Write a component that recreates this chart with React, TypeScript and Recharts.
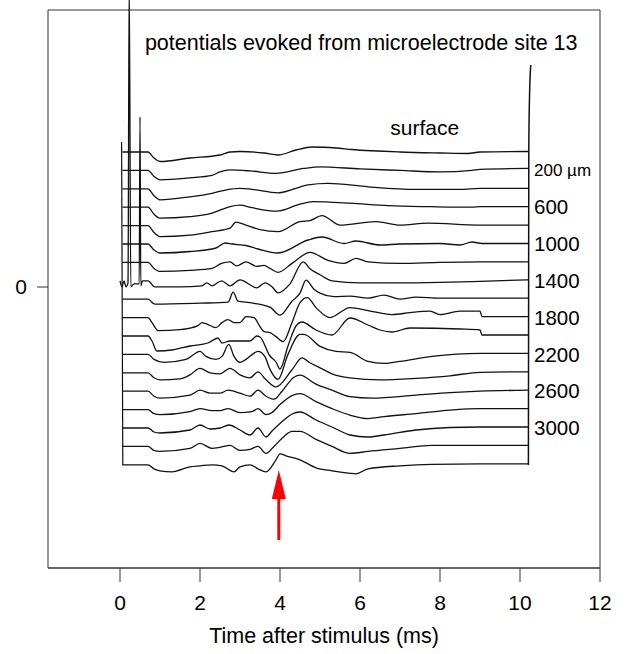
import React from 'react';
import { LineChart, Line, XAxis, YAxis, ReferenceArea, ReferenceDot, ReferenceLine, Label } from 'recharts';

const xTicks = [0, 2, 4, 6, 8, 10, 12];
const yTicks = [0];
const depthLabels = ['', '200 µm', '', '600', '', '1000', '', '1400', '', '1800', '', '2200', '', '2600', '', '3000', '', ''];
const traceOffsets = [135, 116.6, 98.2, 79.8, 61.4, 43, 24.6, 6.2, -12.2, -30.6, -49, -67.4, -85.8, -104.2, -122.6, -141, -159.4, -177.8];

const trace00 = [[0.06,0],[0.7,0],[0.85,-6],[1.0,-9.5],[1.75,-6],[2.5,-3],[2.75,0],[3.0,0.5],[3.6,-1],[3.95,-3],[4.4,2],[4.8,5],[5.4,4],[5.8,2.5],[7.0,0],[8.0,-1],[8.7,-1.5],[9.0,0],[10.2,0.5]];
const trace01 = [[0.06,0],[0.7,0],[0.85,-6],[1.0,-9.5],[1.75,-7.5],[2.3,-5],[2.5,-1.5],[2.75,0.5],[3.25,-0.5],[3.9,-3],[4.6,2],[5.0,3.5],[6.0,1.5],[7.0,0],[8.0,-1.5],[8.8,0],[9.0,1],[10.2,2]];
const trace02 = [[0.06,0],[0.7,0],[0.85,-7],[1.0,-11],[1.75,-8],[2.3,-4.5],[2.66,-1],[3.0,0.5],[3.3,-0.5],[3.95,-4],[4.7,4],[5.2,5.5],[6.2,2],[7.4,-0.5],[8.5,-0.5],[9.0,0.5],[10.2,0.5]];
const trace03 = [[0.06,0],[0.7,0],[0.85,-7],[1.0,-11],[1.75,-9.5],[2.3,-6],[2.5,-3],[2.75,0.5],[3.0,2],[3.3,-0.5],[3.92,-4],[4.5,3],[4.83,5.5],[5.75,4],[6.7,1.5],[7.8,0.5],[8.8,0],[9.0,0.5],[10.2,0.5]];
const trace04 = [[0.06,0],[0.7,0],[0.85,-7],[1.0,-11],[1.75,-9.5],[2.3,-6],[2.75,-2.5],[2.9,3.5],[3.15,0.5],[3.5,-4],[3.95,-6],[4.5,4],[4.75,5],[5.05,10],[5.5,0.5],[6.4,4],[7.0,0.5],[7.7,2.5],[9.0,0.5],[10.2,0.5]];
const trace05 = [[0.06,0],[0.7,0],[0.85,-6],[1.0,-9],[1.75,-7.5],[2.4,-4],[2.63,1],[2.8,0],[3.15,-1.5],[3.45,-5],[3.95,-9],[4.7,4],[5.05,7],[5.6,0.5],[5.9,3],[6.5,-1],[7.0,0],[8.0,0.5],[8.5,-1],[8.8,2],[9.05,0.5],[10.2,0.5]];
const trace06 = [[0.06,0],[0.7,0],[0.85,-6],[1.0,-9],[1.75,-8],[2.3,-6],[2.54,-1],[2.75,0.5],[2.92,-3.5],[3.15,0.5],[3.42,-4],[3.6,-3],[3.75,-6],[3.95,-10],[4.3,-1],[4.75,10],[5.2,2],[5.6,-1],[5.9,4],[6.2,0.5],[7.0,-1],[8.0,0],[9.0,0.5],[10.2,0.5]];
const trace07 = [[0.0,0],[0.05,-6],[0.1,0],[0.15,-6],[0.2,-2],[0.23,300],[0.27,-6],[0.35,-3],[0.48,-3],[0.5,164],[0.52,-5],[0.56,0],[0.7,0],[0.87,-6],[1.5,-6],[2.05,-5],[2.17,-2],[2.3,-5],[2.54,0],[2.75,-5],[3.0,1],[3.42,-7],[3.63,-2],[3.8,-6],[3.95,-12],[4.25,-3],[4.58,19],[4.75,12],[5.0,6],[5.3,0],[6.0,-2],[7.0,-2],[8.0,-1.5],[9.0,-0.5],[10.2,1]];
const trace08 = [[0.06,0],[0.7,0],[0.87,-5],[2.0,-4],[2.7,-3],[2.83,7],[2.95,-2],[3.25,-3.5],[3.75,-8],[4.0,-16],[4.3,-2],[4.5,6],[4.65,19],[4.85,10],[5.0,6],[5.35,2.5],[5.75,3],[6.2,1],[6.6,4],[7.0,0],[7.4,2],[8.0,1],[9.0,1],[10.2,1]];
const trace09 = [[0.06,0],[0.7,0],[0.8,-5],[0.95,-13],[1.5,-12],[1.95,-8],[2.05,-5],[2.15,-6],[2.4,-10],[2.55,-5],[2.7,-2],[2.85,-5],[3.0,-5],[3.15,1],[3.35,0],[3.5,-9],[3.6,-14],[3.75,-15],[3.9,-19],[4.08,-24],[4.3,-5],[4.5,15],[4.68,20],[4.9,10],[5.25,0],[5.75,10],[6.2,7],[6.8,3],[7.25,5],[7.75,6.5],[8.0,3],[8.5,6.5],[9.0,6.5],[9.05,1],[10.2,1]];
const trace10 = [[0.06,0],[0.7,0],[0.8,-5],[0.92,-15],[1.3,-14],[1.75,-10],[2.2,-7],[2.45,-2],[2.55,-7],[2.75,-5],[3.25,-5],[3.42,0],[3.5,-1],[3.75,-20],[3.9,-26],[4.0,-33],[4.2,-10],[4.4,10],[4.55,14],[4.9,6],[5.3,1],[5.75,18],[6.2,11],[6.5,6],[6.8,4],[7.25,8],[8.5,7],[9.0,6],[9.05,1],[10.2,1]];
const trace11 = [[0.06,0],[0.7,0],[0.85,-5],[1.1,-8],[1.65,-5],[2.0,3],[2.15,-2],[2.4,-5],[2.55,-2],[2.72,10],[2.85,-2],[3.0,-8],[3.15,-5],[3.45,3],[3.62,-2],[3.75,-15],[3.95,-25],[4.2,0],[4.5,20],[4.6,20],[5.0,8],[5.4,3],[5.75,2],[6.2,-7],[6.6,-9],[7.0,-7],[7.8,-2],[9.0,1],[10.2,1]];
const trace12 = [[0.06,0],[0.7,0],[0.85,-5],[1.0,-7],[1.5,-6],[1.75,-2],[2.0,4.5],[2.25,0],[2.5,-1],[2.75,4.5],[3.0,-2],[3.25,-5],[3.45,1],[3.65,-7],[3.9,-14],[4.3,3],[4.55,15],[4.75,10],[5.0,5],[5.3,-1],[5.75,-5],[6.5,-7],[7.4,-5.5],[8.25,-3],[9.0,0.5],[10.2,1]];
const trace13 = [[0.06,0],[0.7,0],[0.85,-5],[1.0,-7],[1.75,-4],[2.0,1],[2.25,-2],[2.5,-2],[2.7,1],[3.0,-2],[3.25,-5],[3.45,1],[3.65,-5],[3.85,-8],[4.05,0],[4.35,14],[4.5,16],[4.9,7],[5.3,1],[5.75,-5.5],[6.3,-7],[7.4,-4],[8.25,-1.5],[9.0,0],[10.2,1]];
const trace14 = [[0.06,0],[0.7,0],[0.85,-4],[1.0,-5],[1.75,-2],[2.0,1],[2.3,-1],[2.5,-1],[2.7,1],[3.0,-3],[3.3,-2],[3.45,1],[3.65,-5],[3.8,-3],[4.0,5],[4.3,14],[4.5,16],[4.9,8],[5.3,1],[5.75,-5.5],[6.2,-9],[6.6,-7],[7.4,-4],[8.25,-0.5],[9.0,1],[10.2,1]];
const trace15 = [[0.06,0],[0.7,0],[0.85,-4],[1.0,-5],[1.75,-2],[2.0,3],[2.25,-1],[2.5,0],[2.72,3],[3.0,-2],[3.25,-7],[3.45,0],[3.65,-9],[3.8,-3],[4.1,8],[4.3,14],[4.5,16],[4.9,8],[5.3,1],[5.75,-7],[6.2,-9],[6.6,-7],[7.4,-2],[8.25,0.5],[9.0,1],[10.2,1]];
const trace16 = [[0.06,0],[0.7,0],[0.85,-4],[1.0,-5],[1.75,-2],[2.0,3],[2.3,-2],[2.5,-1],[2.75,1],[3.0,-4],[3.25,-3],[3.45,0],[3.65,-7],[3.85,0],[4.1,10],[4.3,15],[4.5,15],[4.9,7],[5.3,0],[5.75,-7],[6.2,-5],[7.0,-2],[7.8,1],[9.0,1],[10.2,1]];
const trace17 = [[0.06,0],[0.7,0],[0.85,-4],[1.0,-6],[1.3,-7],[1.75,-2],[2.0,-1],[2.3,0],[2.55,-1],[2.85,-7],[3.0,-2],[3.25,0],[3.45,-4],[3.65,-7],[3.9,5],[4.0,11],[4.15,9],[4.5,5],[4.9,-3],[5.3,-6],[5.75,-8.5],[5.9,-9],[6.2,-4],[7.0,-1],[7.8,0.5],[9.0,1],[10.2,1]];

const traces = [trace00, trace01, trace02, trace03, trace04, trace05, trace06, trace07, trace08, trace09, trace10, trace11, trace12, trace13, trace14, trace15, trace16, trace17];

// calibration edges (time, value)
const leftEdge = [[0.04, 145], [0.07, -178]];
const rightEdge = [[10.21, -178], [10.22, 137], [10.24, 194], [10.27, 222]];

const FONT = '"Liberation Sans", Arial, sans-serif';
const INK = '#111';

const toRows = (pts: number[][], off: number) => pts.map(([t, v]) => ({ t, v: v + off }));

export default function App() {
  const series = traces.map((pts, i) => toRows(pts, traceOffsets[i]));
  const left = toRows(leftEdge, 0);
  const right = toRows(rightEdge, 0);
  return (
    <div style={{ position: 'absolute', left: 0, top: 0, background: '#fff' }}>
      <LineChart width={629} height={654} margin={{ top: 0, right: 29, bottom: 0, left: 0 }}>
        <XAxis
          dataKey="t"
          type="number"
          domain={[-1.8, 12]}
          ticks={xTicks}
          allowDataOverflow
          height={86}
          tickSize={14}
          tickMargin={13}
          axisLine={{ stroke: '#333' }}
          tickLine={{ stroke: '#333' }}
          tick={{ fontSize: 21, fill: '#000', fontFamily: FONT }}
        >
          <Label value="Time after stimulus (ms)" position="insideBottom" offset={11} style={{ fontSize: 21.5, fill: '#000', fontFamily: FONT }} />
        </XAxis>
        <YAxis
          dataKey="v"
          type="number"
          domain={[-281, 287]}
          ticks={yTicks}
          allowDataOverflow
          width={48}
          axisLine={false}
          tickSize={11}
          tickMargin={10}
          tickLine={{ stroke: '#333' }}
          tick={{ fontSize: 21, fill: '#000', fontFamily: FONT }}
        />
        <ReferenceArea x1={-1.8} x2={12} y1={-281} y2={277} fill="none" stroke="#333" strokeWidth={1} ifOverflow="visible" />
        {series.map((d, i) => (
          <Line key={i} data={d} dataKey="v" type="monotone" stroke={INK} strokeWidth={1.3} dot={false} activeDot={false} isAnimationActive={false} />
        ))}
        <Line data={left} dataKey="v" type="linear" stroke={INK} strokeWidth={1.2} dot={false} activeDot={false} isAnimationActive={false} />
        <Line data={right} dataKey="v" type="monotone" stroke={INK} strokeWidth={1.5} dot={false} activeDot={false} isAnimationActive={false} />
        {depthLabels.map((lab, i) =>
          lab ? (
            <ReferenceDot key={'l' + i} x={10.25} y={traceOffsets[i]} r={0} stroke="none" fill="none"
              label={{ value: lab, position: 'right', offset: 4, fontSize: lab.length > 4 ? 17 : 20.5, fill: '#000', fontFamily: FONT }} />
          ) : null
        )}
        <ReferenceDot x={6.03} y={245} r={0} stroke="none" fill="none"
          label={{ value: 'potentials evoked from microelectrode site 13', position: 'center', fontSize: 21.5, fill: '#000', fontFamily: FONT }} />
        <ReferenceDot x={7.62} y={159} r={0} stroke="none" fill="none"
          label={{ value: 'surface', position: 'center', fontSize: 21, fill: '#000', fontFamily: FONT }} />
        <ReferenceLine segment={[{ x: 3.97, y: -253 }, { x: 3.97, y: -208 }]} stroke="#ff0000" strokeWidth={3} />
        <ReferenceDot x={3.97} y={-183} r={0}
          shape={(p: any) => (
            <polygon points={`${p.cx},${p.cy} ${p.cx - 7},${p.cy + 29} ${p.cx + 7},${p.cy + 29}`} fill="#ff0000" />
          )} />
      </LineChart>
    </div>
  );
}
